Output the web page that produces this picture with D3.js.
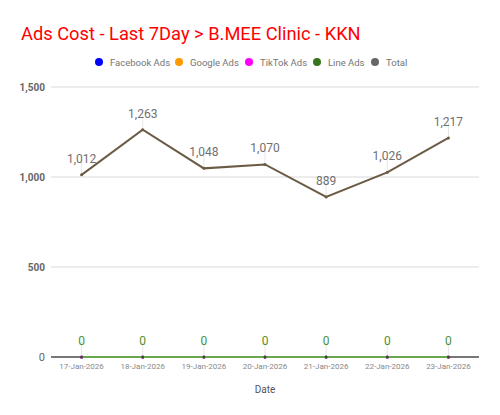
<!DOCTYPE html>
<html>
<head>
<meta charset="utf-8">
<script src="https://cdn.jsdelivr.net/npm/d3@7"></script>
<style>
body { margin: 0; background: #fff; font-family: Roboto, sans-serif; }
</style>
</head>
<body>
<svg id="chart" width="500" height="415"></svg>
<script>
// chart data
var dates = ["17-Jan-2026", "18-Jan-2026", "19-Jan-2026", "20-Jan-2026", "21-Jan-2026", "22-Jan-2026", "23-Jan-2026"];
var facebookAds = [0, 0, 0, 0, 0, 0, 0];
var googleAds = [0, 0, 0, 0, 0, 0, 0];
var tiktokAds = [0, 0, 0, 0, 0, 0, 0];
var lineAds = [0, 0, 0, 0, 0, 0, 0];
var total = [1012, 1263, 1048, 1070, 889, 1026, 1217];
var yTicks = [0, 500, 1000, 1500];
var seriesNames = ["Facebook Ads", "Google Ads", "TikTok Ads", "Line Ads", "Total"];
var seriesColors = ["#0000ff", "#ff9900", "#ff00ff", "#38761d", "#666666"];

var margins = {top: 87, right: 21, left: 51, bottom: 58};
var width = 500 - margins.left - margins.right;
var height = 415 - margins.top - margins.bottom;

var svg = d3.select("#chart");

// title
svg.append("text")
  .attr("x", 21).attr("y", 40)
  .attr("fill", "#ff0000")
  .attr("font-size", 18.3)
  .text("Ads Cost - Last 7Day > B.MEE Clinic - KKN");

// legend
var legendX = [99, 179, 249, 317, 375];
var legend = svg.append("g");
seriesNames.forEach(function(name, i) {
  legend.append("circle")
    .attr("cx", legendX[i]).attr("cy", 62).attr("r", 4)
    .attr("fill", seriesColors[i]);
  legend.append("text")
    .attr("x", legendX[i] + 11).attr("y", 65.5)
    .attr("font-size", 9.5)
    .attr("fill", "#757575")
    .text(name);
});

var g = svg.append("g")
  .attr("transform", "translate(" + margins.left + "," + margins.top + ")");

var xScale = d3.scaleBand().domain(dates).range([0, width]);
var yScale = d3.scaleLinear().domain([0, 1500]).range([height, 0]);
var xPos = function(d) { return xScale(d) + xScale.bandwidth() / 2; };

// gridlines + y labels
yTicks.forEach(function(t) {
  if (t > 0) {
    g.append("line")
      .attr("x1", 0).attr("x2", width)
      .attr("y1", yScale(t)).attr("y2", yScale(t))
      .attr("stroke", "#d9d9d9").attr("stroke-width", 1);
  }
  g.append("text")
    .attr("x", -6).attr("y", yScale(t) + 4)
    .attr("text-anchor", "end")
    .attr("font-size", t == 0 ? 11 : 10)
    .attr("font-weight", t == 0 ? "normal" : "bold")
    .attr("fill", "#666")
    .text(d3.format(",")(t));
});

// baseline
g.append("line")
  .attr("x1", 0).attr("x2", width)
  .attr("y1", yScale(0)).attr("y2", yScale(0))
  .attr("stroke", "#777").attr("stroke-width", 2);

// x labels
dates.forEach(function(d) {
  g.append("text")
    .attr("x", xPos(d)).attr("y", height + 12)
    .attr("text-anchor", "middle")
    .attr("font-size", 8)
    .attr("fill", "#888")
    .text(d);
});

svg.append("text")
  .attr("x", 265).attr("y", 393)
  .attr("text-anchor", "middle")
  .attr("font-size", 10)
  .attr("fill", "#555")
  .text("Date");

var lineGen = d3.line()
  .x(function(v, i) { return xPos(dates[i]); })
  .y(function(v) { return yScale(v); });

var drawSeries = function(values, color, labelColor, showLabels) {
  if (showLabels) {
    values.forEach(function(v, i) {
      g.append("line")
        .attr("x1", xPos(dates[i])).attr("x2", xPos(dates[i]))
        .attr("y1", yScale(v)).attr("y2", yScale(v) - 15)
        .attr("stroke", "#e6e6e6").attr("stroke-width", 1);
    });
  }
  g.append("path")
    .datum(values)
    .attr("d", lineGen)
    .attr("fill", "none")
    .attr("stroke", color)
    .attr("stroke-width", 2);
  values.forEach(function(v, i) {
    g.append("circle")
      .attr("cx", xPos(dates[i])).attr("cy", yScale(v)).attr("r", 1.5)
      .attr("fill", color == "#6aa84f" ? "#444" : color);
    if (showLabels) {
      g.append("text")
        .attr("x", xPos(dates[i])).attr("y", yScale(v) - 12)
        .attr("text-anchor", "middle")
        .attr("font-size", 12)
        .attr("fill", labelColor)
        .text(d3.format(",")(v));
    }
  });
};

drawSeries(facebookAds, "#0000ff", "#0000ff", false);
drawSeries(googleAds, "#ff9900", "#ff9900", false);
drawSeries(tiktokAds, "#ff00ff", "#ff00ff", false);
drawSeries(lineAds, "#6aa84f", "#4e8f2f", true);
drawSeries(total, "#6b5b45", "#707070", true);
</script>
</body>
</html>
